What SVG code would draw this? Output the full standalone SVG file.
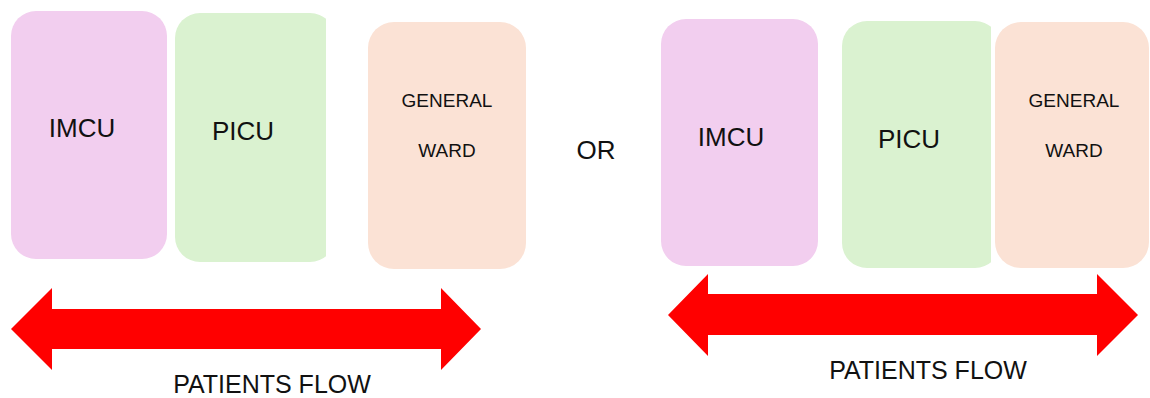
<svg xmlns="http://www.w3.org/2000/svg" width="1150" height="398" viewBox="0 0 1150 398">
<style>
.imcu{fill:#F2CEEF}
.picu{fill:#DAF2D0}
.ward{fill:#FBE2D5}
.lbl{font-family:"Liberation Sans",Arial,sans-serif;fill:#111;text-anchor:middle}
.big{font-size:26px}
.sm{font-size:19px}
.flow{font-size:25px}
.arrow{fill:#FF0000}
</style>
<defs>
<clipPath id="clipL"><rect x="175" y="0" width="151" height="398"/></clipPath>
<clipPath id="clipR"><rect x="842" y="0" width="149" height="398"/></clipPath>
</defs>
<rect width="1150" height="398" fill="#FFFFFF"/>
<g id="left-imcu">
<rect class="imcu" x="11" y="11" width="156" height="248" rx="25"/>
<text class="lbl big" x="82" y="137">IMCU</text>
</g>
<g id="left-picu">
<rect class="picu" x="175" y="13" width="160" height="249" rx="25" clip-path="url(#clipL)"/>
<text class="lbl big" x="243" y="140">PICU</text>
</g>
<g id="left-ward">
<rect class="ward" x="368" y="22" width="158" height="247" rx="26"/>
<text class="lbl sm" x="447" y="107">GENERAL</text>
<text class="lbl sm" x="447" y="157">WARD</text>
</g>
<g id="or">
<text class="lbl big" x="596" y="159">OR</text>
</g>
<g id="right-imcu">
<rect class="imcu" x="661" y="19" width="157" height="247" rx="25"/>
<text class="lbl big" x="731" y="146">IMCU</text>
</g>
<g id="right-picu">
<rect class="picu" x="842" y="21" width="158" height="247" rx="25" clip-path="url(#clipR)"/>
<text class="lbl big" x="909" y="148">PICU</text>
</g>
<g id="right-ward">
<rect class="ward" x="995" y="22" width="154" height="246" rx="26"/>
<text class="lbl sm" x="1074" y="107">GENERAL</text>
<text class="lbl sm" x="1074" y="157">WARD</text>
</g>
<g id="connectors">
<path class="arrow" d="M11,329 L52,288 L52,309 L441,309 L441,288 L481,329 L441,370 L441,349 L52,349 L52,370 Z"/>
<path class="arrow" d="M668,315 L708,274 L708,294 L1097,294 L1097,274 L1138,315 L1097,356 L1097,335 L708,335 L708,356 Z"/>
</g>
<g id="labels">
<text class="lbl flow" x="272" y="393">PATIENTS FLOW</text>
<text class="lbl flow" x="928" y="379">PATIENTS FLOW</text>
</g>
</svg>
